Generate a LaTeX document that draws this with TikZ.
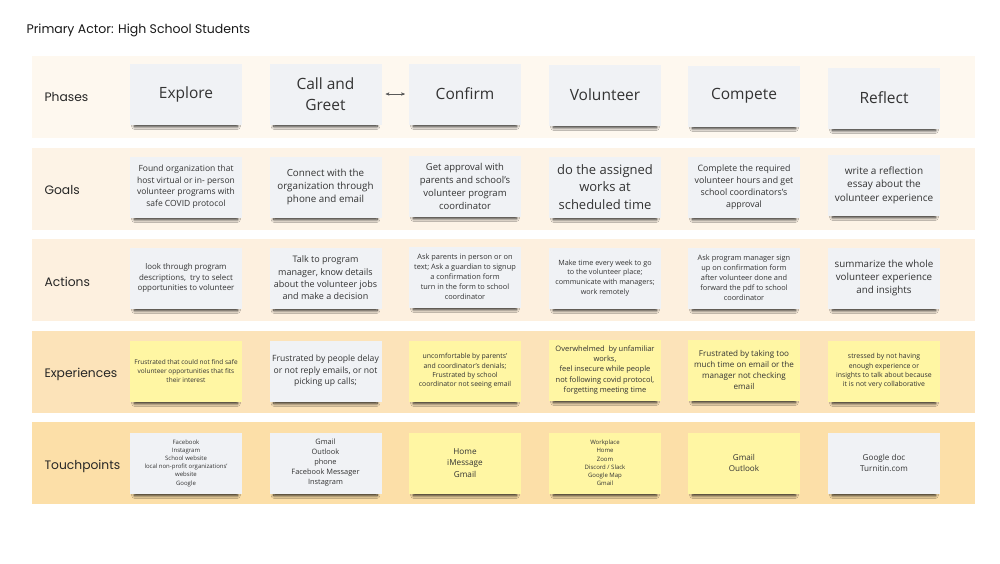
\documentclass[tikz,border=0pt]{standalone}
\usepackage{fontspec}
\setmainfont{Open Sans}
\newfontfamily\lblfont{Poppins}
\usepackage{tikz}
\usetikzlibrary{arrows,shadows,shadows.blur}
\definecolor{bandA}{HTML}{FEF8EF}
\definecolor{bandB}{HTML}{FDF3E6}
\definecolor{bandC}{HTML}{FDF0DF}
\definecolor{bandD}{HTML}{FCE3B9}
\definecolor{bandE}{HTML}{FCDFA8}
\definecolor{cardgray}{HTML}{F0F2F5}
\definecolor{cardyellow}{HTML}{FFF6A3}
\newcommand{\fsz}[2]{\fontsize{#1}{#2}\selectfont}
\tikzset{
    %Define standard arrow tip
    >=stealth',
    %Define style for bands
    band/.style={
           rectangle,
           minimum width=943pt,
           minimum height=82pt,
           inner sep=0pt},
    rowlbl/.style={
           anchor=west,
           text=black!85,
           font=\lblfont\fsz{12.3}{15}},
    %Define style for cards
    card/.style={
           rectangle,
           fill=cardgray,
           minimum width=112pt,
           minimum height=61pt,
           inner sep=2pt,
           align=center,
           text=black!80,
           blur shadow={shadow xshift=0pt, shadow yshift=-5pt,
                        shadow scale=0.92, shadow blur radius=3pt,
                        shadow blur steps=8, shadow opacity=85}},
    ycard/.style={
           card,
           fill=cardyellow},
    % Define arrow style
    arr/.style={
           <->,
           thin,
           draw=black!65,
           shorten <=4pt,
           shorten >=4pt}
}
\begin{document}
\begin{tikzpicture}[x=1pt, y=-1pt]
    \useasboundingbox (0,0) rectangle (1000,563);
    % TITLE
    \node[anchor=west, text=black!90, font=\lblfont\fsz{12.5}{15}] (title) at (23,30) {Primary Actor: High School Students};

    % BANDS
    \node[band, fill=bandA] (bphase) at (503.5,97) {};
    \node[band, fill=bandB] (bgoal) at (503.5,189) {};
    \node[band, fill=bandC] (bact) at (503.5,280) {};
    \node[band, fill=bandD] (bexp) at (503.5,371.5) {};
    \node[band, fill=bandE] (btouch) at (503.5,463) {};

    \node[rowlbl] (lphase) at (41,97) {Phases};
    \node[rowlbl] (lgoal) at (41,190) {Goals};
    \node[rowlbl] (lact) at (41,282) {Actions};
    \node[rowlbl] (lexp) at (41,374) {Experiences};
    \node[rowlbl] (ltouch) at (41,466) {Touchpoints};

    % PHASES
    \node[card, font=\fsz{15.5}{21}] (explore) at (186,94) {Explore};
    \node[card, font=\fsz{15.5}{21}] (call) at (325.5,94) {Call and\\Greet};
    \node[card, font=\fsz{15.5}{21}] (confirm) at (465,94) {Confirm};
    \node[card, font=\fsz{15.5}{21}] (volunteer) at (605,95) {Volunteer};
    \node[card, font=\fsz{15.5}{21}] (compete) at (744,96) {Compete};
    \node[card, font=\fsz{15.5}{21}] (reflect) at (884,98) {Reflect};

    \draw[arr] (call.east) -- (confirm.west);

    % GOALS
    \node[card, font=\fsz{8.5}{11.5}] (goal1) at (186,187) {Found organization that\\host virtual or in- person\\volunteer programs with\\safe COVID protocol};
    \node[card, font=\fsz{9.8}{13.3}] (goal2) at (325.5,187) {Connect with the\\organization through\\phone and email};
    \node[card, font=\fsz{9.5}{13}] (goal3) at (465,186) {Get approval with\\parents and school's\\volunteer program\\coordinator};
    \node[card, font=\fsz{13}{17.8}] (goal4) at (605,187) {do the assigned\\works at\\scheduled time};
    \node[card, font=\fsz{8.8}{12}] (goal5) at (744,187) {Complete the required\\volunteer hours and get\\school coordinators's\\approval};
    \node[card, font=\fsz{10}{13.5}] (goal6) at (884,185) {write a reflection\\essay about the\\volunteer experience};

    % ACTIONS
    \node[card, font=\fsz{7.9}{10.7}] (act1) at (186,278) {look through program\\descriptions,\ \ try to select\\opportunities to volunteer};
    \node[card, font=\fsz{9}{12.3}] (act2) at (325.5,278) {Talk to program\\manager, know details\\about the volunteer jobs\\and make a decision};
    \node[card, font=\fsz{7.4}{10}] (act3) at (465,277) {Ask parents in person or on\\text; Ask a guardian to signup\\a confirmation form\\turn in the form to school\\coordinator};
    \node[card, font=\fsz{7.2}{9.8}] (act4) at (605,278) {Make time every week to go\\to the volunteer place;\\communicate with managers;\\work remotely};
    \node[card, font=\fsz{7.4}{10}] (act5) at (744,278) {Ask program manager sign\\up on confirmation form\\after volunteer done and\\forward the pdf to school\\coordinator};
    \node[card, font=\fsz{9.8}{13.3}] (act6) at (884,278) {summarize the whole\\volunteer experience\\and insights};

    % EXPERIENCES
    \node[ycard, font=\fsz{6.5}{8.8}] (exp1) at (186,371) {Frustrated that could not find safe\\volunteer opportunities that fits\\their interest};
    \node[card, font=\fsz{8.6}{11.7}] (exp2) at (325.5,371) {Frustrated by people delay\\or not reply emails, or not\\picking up calls;};
    \node[ycard, font=\fsz{6.9}{9.4}] (exp3) at (465,371) {uncomfortable by parents'\\and coordinator's denials;\\Frustrated by school\\coordinator not seeing email};
    \node[ycard, font=\fsz{7.5}{10.2}] (exp4) at (605,370) {Overwhelmed\ \ by unfamiliar\\works,\\feel insecure while people\\not following covid protocol,\\forgetting meeting time};
    \node[ycard, font=\fsz{8.1}{11}] (exp5) at (744,370) {Frustrated by taking too\\much time on email or the\\manager not checking\\email};
    \node[ycard, font=\fsz{6.9}{9.3}] (exp6) at (884,371) {stressed by not having\\enough experience or\\insights to talk about because\\it is not very collaborative};

    % TOUCHPOINTS
    \node[card, font=\fsz{6}{8.2}] (touch1) at (186,463) {Facebook\\Instagram\\School website\\local non-profit organizations'\\website\\Google};
    \node[card, font=\fsz{7.4}{10}] (touch2) at (325.5,463) {Gmail\\Outlook\\phone\\Facebook Messager\\Instagram};
    \node[ycard, font=\fsz{8.2}{11.2}] (touch3) at (465,463) {Home\\iMessage\\Gmail};
    \node[ycard, font=\fsz{6}{8.2}] (touch4) at (605,463) {Workplace\\Home\\Zoom\\Discord / Slack\\Google Map\\Gmail};
    \node[ycard, font=\fsz{8.1}{11}] (touch5) at (744,463) {Gmail\\Outlook};
    \node[card, font=\fsz{8.1}{11}] (touch6) at (884,463) {Google doc\\Turnitin.com};
\end{tikzpicture}
\end{document}
